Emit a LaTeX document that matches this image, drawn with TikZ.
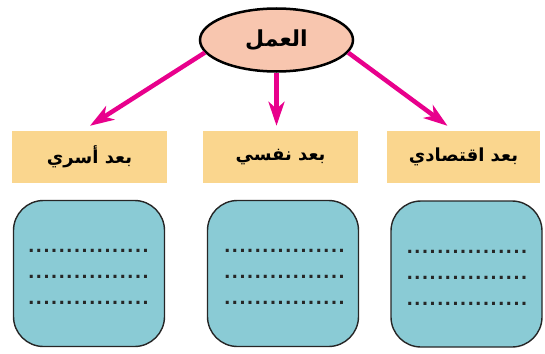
\documentclass[tikz,border=0pt]{standalone}
\usepackage{fontspec}
\setmainfont{DejaVu Sans}
\newfontfamily\arabicfont[Script=Arabic]{DejaVu Sans}
\TeXXeTstate=1
\usetikzlibrary{arrows.meta,shapes.geometric}
\definecolor{arrowpink}{RGB}{232,0,140}
\definecolor{salmon}{RGB}{248,198,175}
\definecolor{boxorange}{RGB}{250,214,142}
\definecolor{boxblue}{RGB}{138,203,213}
\newcommand\dotrow{\hbox to 122pt{\leaders\hbox to 7.625pt{\hss.\hss}\hfill}}
\tikzset{
  mainellipse/.style={ellipse, draw=black, line width=2.5pt, fill=salmon, minimum width=153pt, minimum height=63pt, inner sep=0pt, font=\arabicfont\bfseries\fontsize{22}{26}\selectfont},
  headbox/.style={rectangle, fill=boxorange, minimum height=52pt, inner sep=0pt, font=\arabicfont\bfseries\fontsize{18}{22}\selectfont},
  notebox/.style={rectangle, rounded corners=30pt, draw=black!85, line width=1.4pt, fill=boxblue, minimum width=151pt, minimum height=146pt, inner sep=0pt},
  dotline/.style={inner sep=0pt, font=\bfseries\fontsize{17}{20}\selectfont, text=black!85},
  arr/.style={draw=arrowpink, line width=4.5pt, -{Stealth[length=24pt,width=16pt,inset=7pt]}}
}
\begin{document}
\begin{tikzpicture}[x=1pt,y=-1pt]
\useasboundingbox (0,0) rectangle (545,353);
\node[mainellipse] (work) at (276.5,40) {\beginR العمل\endR};
\node[headbox, minimum width=155pt] (o1) at (89.5,157) {\beginR بعد أسري\endR};
\node[headbox, minimum width=155pt] (o2) at (280.5,157) {\beginR بعد نفسي\endR};
\node[headbox, minimum width=153pt] (o3) at (463.5,157) {\beginR بعد اقتصادي\endR};
\node[notebox] (b1) at (89,273.5) {};
\node[notebox] (b2) at (283,273.5) {};
\node[notebox] (b3) at (466.5,274) {};
\foreach \b/\dx in {b1/-0.5,b2/1.5,b3/0.5}{
  \node[dotline] (\b r1) at ([xshift=\dx pt,yshift=22.5pt]\b.center) {\dotrow};
  \node[dotline] (\b r2) at ([xshift=\dx pt,yshift=-3.5pt]\b.center) {\dotrow};
  \node[dotline] (\b r3) at ([xshift=\dx pt,yshift=-29.5pt]\b.center) {\dotrow};
}
\draw[arr] (work.190) -- ([xshift=0.5pt,yshift=5pt]o1.north);
\draw[arr] (work.south) -- ([xshift=-4pt,yshift=5pt]o2.north);
\draw[arr] (work.350) -- ([xshift=-16pt,yshift=5pt]o3.north);
\end{tikzpicture}
\end{document}
